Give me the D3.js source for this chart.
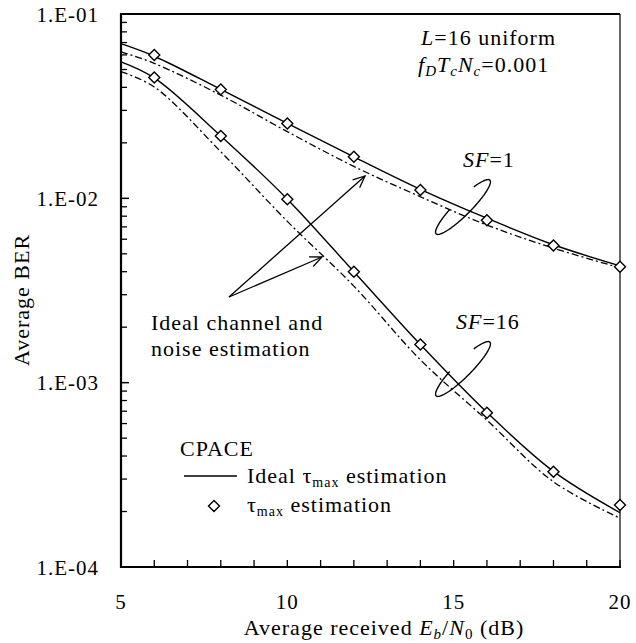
<!DOCTYPE html>
<meta charset="utf-8">
<style>
  body { margin: 0; background: #fff; }
  .lbl {
    font-family: "Liberation Serif", "Times New Roman", serif;
    font-size: 22px;
    letter-spacing: 1px;
    fill: #000;
  }
  .tk { font-size: 21px; }
</style>
<svg width="636" height="643"></svg>
<script src="https://d3js.org/d3.v7.min.js"></script>
<script>
  // Eb/N0 (dB)
  var snrLine = [5, 6, 8, 10, 12, 14, 16, 18, 20];
  var snrMark = [6, 8, 10, 12, 14, 16, 18, 20];

  // SF=1
  var sf1Ideal = [0.069, 0.059, 0.039, 0.0255, 0.0168, 0.0112, 0.0078, 0.0056, 0.0043];
  var sf1Chan = [0.0624, 0.054, 0.0363, 0.023, 0.0149, 0.0102, 0.00716, 0.00537, 0.0042];
  var sf1Est = [0.060, 0.039, 0.0255, 0.0168, 0.0111, 0.0076, 0.00554, 0.00426];

  // SF=16
  var sf16Ideal = [0.055, 0.045, 0.0218, 0.0099, 0.0040, 0.00161, 0.00069, 0.00033, 0.000197];
  var sf16Chan = [0.0487, 0.0402, 0.0179, 0.0075, 0.00334, 0.00133, 0.000626, 0.00029, 0.000184];
  var sf16Est = [0.0453, 0.0218, 0.0099, 0.0040, 0.00161, 0.000687, 0.000329, 0.000217];

  var yTickLabels = ["1.E-01", "1.E-02", "1.E-03", "1.E-04"];
  var xTickLabels = [5, 10, 15, 20];

  var svg = d3.select("svg");
  var pLeft = 121, pRight = 620, pTop = 14, pBottom = 567;

  var x = d3.scaleLinear().domain([5, 20]).range([pLeft, pRight]);
  var y = d3.scaleLog().domain([1e-4, 1e-1]).range([pBottom, pTop]);

  // minor ticks
  var xMinor = d3.range(5, 21, 1);
  var yMinor = [];
  [-4, -3, -2].forEach(function (e) {
    for (var k = 2; k <= 9; k++) yMinor.push(k * Math.pow(10, e));
  });
  var yMajor = [1e-1, 1e-2, 1e-3, 1e-4];

  var g = svg.append("g");

  g.selectAll(".xt").data(xMinor).enter().append("line")
    .attr("x1", function (d) { return x(d); }).attr("x2", function (d) { return x(d); })
    .attr("y1", pBottom).attr("y2", pBottom - 7)
    .attr("stroke", "#000").attr("stroke-width", 1.3);

  g.selectAll(".ym").data(yMinor).enter().append("line")
    .attr("x1", pLeft).attr("x2", pLeft + 6)
    .attr("y1", function (d) { return y(d); }).attr("y2", function (d) { return y(d); })
    .attr("stroke", "#000").attr("stroke-width", 1.3);

  g.selectAll(".yM").data(yMajor).enter().append("line")
    .attr("x1", pLeft).attr("x2", pLeft + 8)
    .attr("y1", function (d) { return y(d); }).attr("y2", function (d) { return y(d); })
    .attr("stroke", "#000").attr("stroke-width", 1.5);

  // frame
  g.append("line").attr("x1", pRight).attr("x2", pRight).attr("y1", pTop).attr("y2", pBottom)
    .attr("stroke", "#000").attr("stroke-width", 1.2);
  g.append("line").attr("x1", pLeft).attr("x2", pRight).attr("y1", pTop).attr("y2", pTop)
    .attr("stroke", "#000").attr("stroke-width", 2);
  g.append("line").attr("x1", pLeft).attr("x2", pLeft).attr("y1", pTop - 1).attr("y2", pBottom + 1)
    .attr("stroke", "#000").attr("stroke-width", 2.2);
  g.append("line").attr("x1", pLeft - 1).attr("x2", pRight + 1).attr("y1", pBottom).attr("y2", pBottom)
    .attr("stroke", "#000").attr("stroke-width", 2.2);

  // tick labels
  g.selectAll(".yl").data(yMajor).enter().append("text")
    .attr("class", "lbl tk")
    .attr("x", 99).attr("y", function (d) { return y(d) + 7.5; })
    .attr("text-anchor", "end")
    .text(function (d, i) { return yTickLabels[i]; });

  g.selectAll(".xl").data(xTickLabels).enter().append("text")
    .attr("class", "lbl tk")
    .attr("x", function (d) { return x(d); }).attr("y", 609)
    .attr("text-anchor", "middle")
    .text(function (d) { return d; });

  // axis titles
  var xt = svg.append("text").attr("class", "lbl").attr("x", 384).attr("y", 635).attr("text-anchor", "middle");
  xt.append("tspan").text("Average received ");
  xt.append("tspan").attr("font-style", "italic").text("E");
  xt.append("tspan").attr("font-style", "italic").attr("font-size", 15).attr("dy", 4).text("b");
  xt.append("tspan").attr("dy", -4).text("/");
  xt.append("tspan").attr("font-style", "italic").text("N");
  xt.append("tspan").attr("font-size", 15).attr("dy", 4).text("0");
  xt.append("tspan").attr("dy", -4).text(" (dB)");

  svg.append("text").attr("class", "lbl")
    .attr("transform", "translate(29,300) rotate(-90)")
    .attr("text-anchor", "middle")
    .text("Average BER");

  // curves
  var line = function (xs) {
    return d3.line()
      .x(function (d, i) { return x(xs[i]); })
      .y(function (d) { return y(d); })
      .curve(d3.curveCatmullRom);
  };

  [sf1Chan, sf16Chan].forEach(function (s) {
    g.append("path").attr("d", line(snrLine)(s))
      .attr("fill", "none").attr("stroke", "#000").attr("stroke-width", 1.3)
      .attr("stroke-dasharray", "7,3,2,3");
  });
  [sf1Ideal, sf16Ideal].forEach(function (s) {
    g.append("path").attr("d", line(snrLine)(s))
      .attr("fill", "none").attr("stroke", "#000").attr("stroke-width", 1.4);
  });

  var diamond = function (cx, cy) {
    var r = 5.5;
    return "M" + cx + "," + (cy - r) + "L" + (cx + r) + "," + cy + "L" + cx + "," + (cy + r) + "L" + (cx - r) + "," + cy + "Z";
  };
  [sf1Est, sf16Est].forEach(function (s) {
    g.selectAll(null).data(s).enter().append("path")
      .attr("d", function (d, i) { return diamond(x(snrMark[i]), y(d)); })
      .attr("fill", "#fff").attr("stroke", "#000").attr("stroke-width", 1.4);
  });

  // annotations
  var t1 = svg.append("text").attr("class", "lbl").attr("x", 421).attr("y", 45);
  t1.append("tspan").attr("font-style", "italic").text("L");
  t1.append("tspan").text("=16 uniform");

  var t2 = svg.append("text").attr("class", "lbl").attr("x", 418).attr("y", 72);
  t2.append("tspan").attr("font-style", "italic").text("f");
  t2.append("tspan").attr("font-style", "italic").attr("font-size", 15).attr("dy", 4).text("D");
  t2.append("tspan").attr("font-style", "italic").attr("dy", -4).text("T");
  t2.append("tspan").attr("font-style", "italic").attr("font-size", 15).attr("dy", 4).text("c");
  t2.append("tspan").attr("font-style", "italic").attr("dy", -4).text("N");
  t2.append("tspan").attr("font-style", "italic").attr("font-size", 15).attr("dy", 4).text("c");
  t2.append("tspan").attr("dy", -4).text("=0.001");

  [["1", 463, 167], ["16", 456, 329]].forEach(function (a) {
    var t = svg.append("text").attr("class", "lbl").attr("x", a[1]).attr("y", a[2]);
    t.append("tspan").attr("font-style", "italic").text("SF");
    t.append("tspan").text("=" + a[0]);
  });

  svg.append("text").attr("class", "lbl").attr("x", 151).attr("y", 330).text("Ideal channel and");
  svg.append("text").attr("class", "lbl").attr("x", 151).attr("y", 356).text("noise estimation");

  // ellipses (open arc)
  function ellipseArc(cx, cy) {
    var a = 38, b = 8, th = -Math.PI / 4;
    var pts = d3.range(-55, 255, 4).map(function (deg) {
      var t = deg * Math.PI / 180;
      var px = a * Math.cos(t), py = b * Math.sin(t);
      return [cx + px * Math.cos(th) - py * Math.sin(th), cy + px * Math.sin(th) + py * Math.cos(th)];
    });
    return d3.line()(pts);
  }
  [[463, 207], [463, 369]].forEach(function (c) {
    svg.append("path").attr("d", ellipseArc(c[0], c[1]))
      .attr("fill", "none").attr("stroke", "#000").attr("stroke-width", 1.4);
  });

  // arrows
  var origin = [229, 297];
  [[365, 176], [322, 257]].forEach(function (e) {
    svg.append("line").attr("x1", origin[0]).attr("y1", origin[1]).attr("x2", e[0]).attr("y2", e[1])
      .attr("stroke", "#000").attr("stroke-width", 1.3);
    var ang = Math.atan2(e[1] - origin[1], e[0] - origin[0]);
    var L = 13, w = 0.42;
    var p1 = [e[0] - L * Math.cos(ang - w), e[1] - L * Math.sin(ang - w)];
    var p2 = [e[0] - L * Math.cos(ang + w), e[1] - L * Math.sin(ang + w)];
    svg.append("path").attr("d", d3.line()([p1, e, p2]))
      .attr("fill", "none").attr("stroke", "#000").attr("stroke-width", 1.3);
  });

  // legend
  svg.append("text").attr("class", "lbl").attr("x", 180).attr("y", 456).text("CPACE");
  svg.append("line").attr("x1", 184).attr("x2", 237).attr("y1", 476).attr("y2", 476)
    .attr("stroke", "#000").attr("stroke-width", 1.6);
  svg.append("path").attr("d", diamond(214, 506))
    .attr("fill", "#fff").attr("stroke", "#000").attr("stroke-width", 1.4);
  var l1 = svg.append("text").attr("class", "lbl").attr("x", 247).attr("y", 483);
  l1.append("tspan").text("Ideal τ");
  l1.append("tspan").attr("font-size", 14).attr("dy", 4).text("max");
  l1.append("tspan").attr("dy", -4).text(" estimation");
  var l2 = svg.append("text").attr("class", "lbl").attr("x", 247).attr("y", 512);
  l2.append("tspan").text("τ");
  l2.append("tspan").attr("font-size", 14).attr("dy", 4).text("max");
  l2.append("tspan").attr("dy", -4).text(" estimation");
</script>
